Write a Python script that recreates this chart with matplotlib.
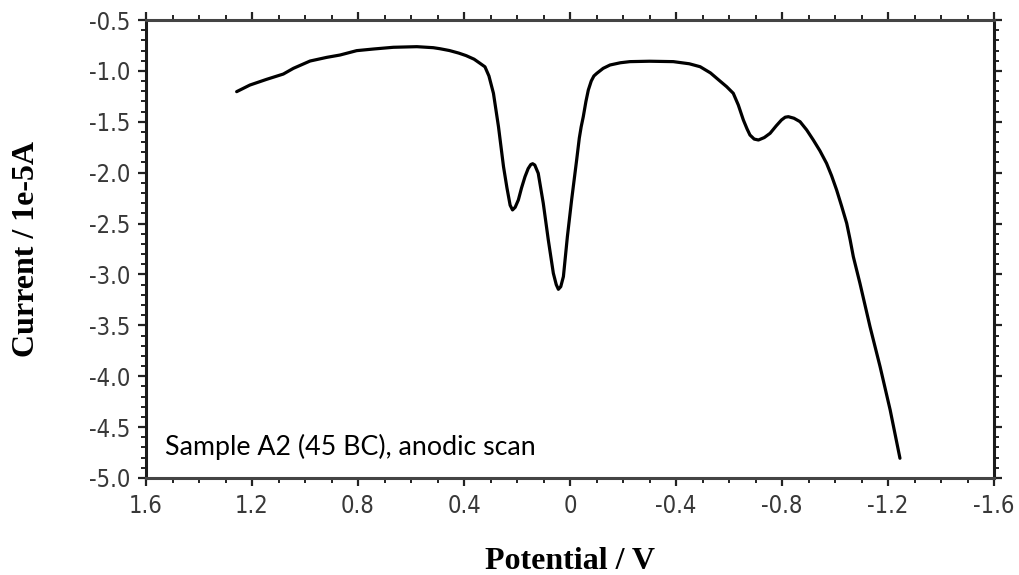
import matplotlib
matplotlib.use("Agg")
import matplotlib.pyplot as plt
from matplotlib import font_manager
from matplotlib.font_manager import FontProperties
from matplotlib.ticker import MultipleLocator, FixedLocator

# Anodic scan of sample A2: potential (V) vs current (1e-5 A)
potential = [1.258, 1.208, 1.145, 1.082, 1.044, 0.981, 0.918, 0.868, 0.805, 0.742,
             0.667, 0.578, 0.516, 0.491, 0.455, 0.420, 0.392, 0.362, 0.340, 0.321,
             0.306, 0.289, 0.270, 0.251, 0.238, 0.226, 0.217, 0.207, 0.195, 0.183,
             0.170, 0.158, 0.148, 0.141, 0.133, 0.120, 0.101, 0.082, 0.063, 0.052,
             0.044, 0.035, 0.025, 0.010, -0.006, -0.025, -0.035, -0.042, -0.050,
             -0.060, -0.069, -0.080, -0.090, -0.101, -0.125, -0.151, -0.190, -0.226,
             -0.300, -0.390, -0.450, -0.491, -0.530, -0.566, -0.591, -0.616, -0.635,
             -0.654, -0.668, -0.679, -0.695, -0.711, -0.733, -0.755, -0.778, -0.798,
             -0.812, -0.824, -0.845, -0.868, -0.893, -0.918, -0.943, -0.968, -0.987,
             -1.006, -1.025, -1.044, -1.057, -1.069, -1.094, -1.132, -1.170, -1.208,
             -1.245]
current = [-1.204, -1.139, -1.083, -1.031, -0.975, -0.903, -0.867, -0.844, -0.801, -0.785,
           -0.768, -0.762, -0.772, -0.782, -0.800, -0.825, -0.850, -0.885, -0.925, -0.960,
           -1.050, -1.220, -1.548, -1.941, -2.150, -2.320, -2.366, -2.340, -2.268, -2.150,
           -2.040, -1.960, -1.920, -1.912, -1.925, -2.006, -2.300, -2.661, -2.988, -3.100,
           -3.146, -3.120, -3.021, -2.629, -2.268, -1.875, -1.660, -1.550, -1.450,
           -1.300, -1.188, -1.100, -1.050, -1.024, -0.975, -0.942, -0.920, -0.909,
           -0.905, -0.909, -0.930, -0.959, -1.020, -1.100, -1.155, -1.220, -1.335,
           -1.482, -1.570, -1.630, -1.670, -1.679, -1.655, -1.613, -1.540, -1.482,
           -1.455, -1.450, -1.465, -1.499, -1.580, -1.679, -1.785, -1.908, -2.030,
           -2.170, -2.330, -2.497, -2.660, -2.825, -3.087, -3.513, -3.906, -4.331,
           -4.806]

x_ticks = [1.6, 1.2, 0.8, 0.4, 0.0, -0.4, -0.8, -1.2, -1.6]
x_tick_labels = ["1.6", "1.2", "0.8", "0.4", "0", "-0.4", "-0.8", "-1.2", "-1.6"]
y_ticks = [-0.5, -1.0, -1.5, -2.0, -2.5, -3.0, -3.5, -4.0, -4.5, -5.0]
y_tick_labels = ["-0.5", "-1.0", "-1.5", "-2.0", "-2.5", "-3.0", "-3.5", "-4.0", "-4.5", "-5.0"]

x_label = "Potential / V"
y_label = "Current / 1e-5A"
note = "Sample A2 (45 BC), anodic scan"


def narrow_font(size):
    """Pick an installed condensed sans face for the tick labels, if any."""
    for f in font_manager.fontManager.ttflist:
        name = f.name.lower()
        stretch = str(f.stretch).lower()
        if ("narrow" in name or "condensed" in name or "condensed" in stretch) \
                and f.style == "normal" and f.weight in (400, "normal", "regular"):
            return FontProperties(fname=f.fname, size=size)
    return FontProperties(family="Liberation Sans", size=size - 2)


available = {f.name for f in font_manager.fontManager.ttflist}
note_font = "Lato" if "Lato" in available else "DejaVu Sans"
tick_fp = narrow_font(17)

fig = plt.figure(figsize=(10.19, 5.75), dpi=100)
ax = fig.add_axes([0.1433, 0.1687, 0.8322, 0.7965])

ax.plot(potential, current, color="black", lw=2.3,
        solid_joinstyle="round", solid_capstyle="round")

ax.set_xlim(1.6, -1.6)
ax.set_ylim(-5.0, -0.5)

ax.xaxis.set_major_locator(FixedLocator(x_ticks))
ax.set_xticklabels(x_tick_labels)
ax.xaxis.set_minor_locator(MultipleLocator(0.1))
ax.yaxis.set_major_locator(FixedLocator(y_ticks))
ax.set_yticklabels(y_tick_labels)
ax.yaxis.set_minor_locator(MultipleLocator(0.1))

ax.tick_params(which="both", direction="out", top=True, right=True,
               labeltop=False, labelright=False, color="#222222")
ax.tick_params(which="major", length=5.5, width=1.6, pad=6, labelcolor="#383838")
ax.tick_params(which="minor", length=3.5, width=1.4)

for lab in ax.get_xticklabels() + ax.get_yticklabels():
    lab.set_fontproperties(tick_fp)

for side, sp in ax.spines.items():
    sp.set_linewidth(2.2)
    sp.set_color("#1a1a1a" if side in ("left", "right") else "#444444")

ax.set_xlabel(x_label, fontfamily="Liberation Serif", fontweight="bold",
              fontsize=23, labelpad=21)
ax.set_ylabel(y_label, fontfamily="Liberation Serif", fontweight="bold",
              fontsize=23, labelpad=34)

ax.text(0.022, 0.04, note, transform=ax.transAxes, fontfamily=note_font,
        fontsize=19.3, color="black", ha="left", va="bottom")

fig.savefig("out.png", dpi=100)
